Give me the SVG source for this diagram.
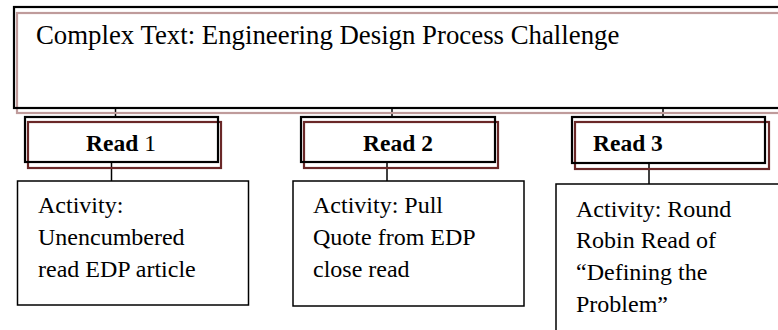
<svg xmlns="http://www.w3.org/2000/svg" width="778" height="330" viewBox="0 0 778 330">
  <style>
    .frame { fill: none; stroke: #000; stroke-width: 2.2; }
    .shade { fill: none; stroke: #bf9b9b; stroke-width: 2.2; }
    .shade-dark { fill: none; stroke: #6a2828; stroke-width: 2.2; }
    .box { fill: none; stroke: #000; stroke-width: 1.5; }
    .link { stroke: #000; stroke-width: 1.5; fill: none; }
    .title { font-family: "Liberation Serif", "Times New Roman", serif; font-size: 26.8px; fill: #000; }
    .head { font-family: "Liberation Serif", "Times New Roman", serif; font-size: 23.5px; font-weight: bold; fill: #000; }
    .body { font-family: "Liberation Serif", "Times New Roman", serif; font-size: 24px; fill: #000; }
  </style>
  <rect width="778" height="330" fill="#fff"/>

  <g id="connectors">
    <line class="link" x1="115.5" y1="108" x2="115.5" y2="117"/>
    <line class="link" x1="392" y1="108" x2="392" y2="117"/>
    <line class="link" x1="663" y1="108" x2="663" y2="117"/>
    <line class="link" x1="111.5" y1="162" x2="111.5" y2="181"/>
    <line class="link" x1="387" y1="162" x2="387" y2="181"/>
    <line class="link" x1="649" y1="163" x2="649" y2="184"/>
  </g>

  <g id="complex-text">
    <rect class="shade" x="17" y="13" width="800" height="100"/>
    <rect class="frame" x="14" y="7" width="800" height="101"/>
    <text class="title" x="36" y="44">Complex Text: Engineering Design Process Challenge</text>
  </g>

  <g id="read-1">
    <rect class="shade-dark" x="28" y="122" width="193" height="46"/>
    <rect class="frame" x="25" y="117" width="193" height="45"/>
    <text class="head" x="121" y="151" text-anchor="middle">Read<tspan font-weight="normal"> 1</tspan></text>
  </g>

  <g id="read-2">
    <rect class="shade-dark" x="304" y="122" width="194" height="46"/>
    <rect class="frame" x="301" y="117" width="194" height="45"/>
    <text class="head" x="398" y="151" text-anchor="middle">Read 2</text>
  </g>

  <g id="read-3">
    <rect class="shade-dark" x="575" y="122" width="194" height="47"/>
    <rect class="frame" x="572" y="117" width="193" height="46"/>
    <text class="head" x="593" y="151">Read 3</text>
  </g>

  <g id="activity-1">
    <rect class="box" x="17.5" y="181" width="231" height="124"/>
    <text class="body" x="38" y="213">Activity:</text>
    <text class="body" x="38" y="245">Unencumbered</text>
    <text class="body" x="38" y="277">read EDP article</text>
  </g>

  <g id="activity-2">
    <rect class="box" x="293" y="181" width="231" height="125"/>
    <text class="body" x="313" y="213">Activity: Pull</text>
    <text class="body" x="313" y="245">Quote from EDP</text>
    <text class="body" x="313" y="277">close read</text>
  </g>

  <g id="activity-3">
    <rect class="box" x="556" y="184" width="260" height="170"/>
    <text class="body" x="576" y="217">Activity: Round</text>
    <text class="body" x="576" y="248">Robin Read of</text>
    <text class="body" x="576" y="280">“Defining the</text>
    <text class="body" x="576" y="312">Problem”</text>
  </g>
</svg>
